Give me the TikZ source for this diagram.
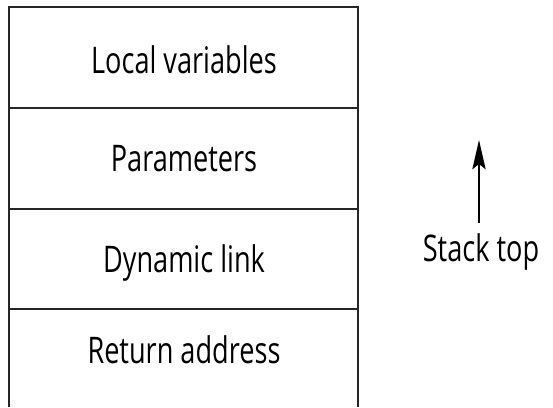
\documentclass[tikz,border=0pt]{standalone}
\usepackage{fontspec}
\setmainfont{Open Sans}
\usetikzlibrary{arrows.meta}
\tikzset{
  frameline/.style={line width=1.2pt, draw=black!85},
  lbl/.style={anchor=base, inner sep=0pt, font=\fontsize{27.5}{32}\selectfont},
  uparrow/.style={line width=1.2pt, -{Stealth[length=22pt, width=10pt, inset=4pt]}}
}
\newcommand{\sq}[1]{\scalebox{0.74}[1]{#1}}
\begin{document}
\begin{tikzpicture}[x=0.75pt,y=-0.75pt]
\useasboundingbox (0,0) rectangle (553,407);
% stack frame
\draw[frameline] (9,407) -- (9,7) -- (358,7) -- (358,407);
\draw[frameline] (9,108) -- (358,108);
\draw[frameline] (9,209) -- (358,209);
\draw[frameline] (9,309) -- (358,309);
% labels
\node[lbl] (lv) at (184,73) {\sq{Local variables}};
\node[lbl] (pa) at (184,171) {\sq{Parameters}};
\node[lbl] (dl) at (184,272.5) {\sq{Dynamic link}};
\node[lbl] (ra) at (184,363) {\sq{Return address}};
\node[lbl] (st) at (481,261.5) {\sq{Stack top}};
% arrow
\coordinate (a0) at (479,223);
\coordinate (a1) at (479,140);
\draw[uparrow] (a0) -- (a1);
\end{tikzpicture}
\end{document}
